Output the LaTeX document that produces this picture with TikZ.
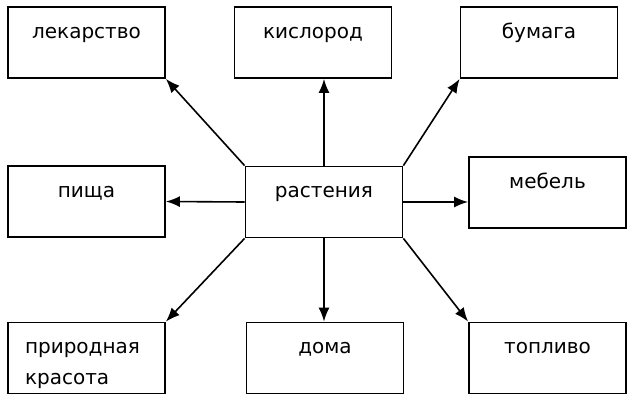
\documentclass[tikz,border=0pt]{standalone}
\usepackage{fontspec}
\setmainfont{DejaVu Sans}
\usepackage{tikz}
\usetikzlibrary{arrows.meta}
\tikzset{
  box/.style={rectangle, draw=black, line width=1.8pt, minimum width=157pt, minimum height=71pt, inner xsep=4pt, inner ysep=0pt, text height=31pt, text depth=40pt, align=center, font=\fontsize{20}{31}\selectfont},
  arr/.style={-{Latex[length=14pt,width=11pt]}, line width=1.6pt, black},
}
\begin{document}
\begin{tikzpicture}[x=1pt, y=-1pt]
\useasboundingbox (0,0) rectangle (638,402);
\node[box] (cen) at (324,202) {растения};
\node[box] (lek) at (86.5,42.5) {лекарство};
\node[box] (kis) at (313,42.5) {кислород};
\node[box] (bum) at (539,42.5) {бумага};
\node[box] (pis) at (86.5,201.5) {пища};
\node[box] (meb) at (547.5,192.5) {мебель};
\node[box, align=left, text width=123pt] (kra) at (86.5,358) {природная\\красота};
\node[box] (dom) at (325,358) {дома};
\node[box] (top) at (547.5,358) {топливо};
\draw[arr] (cen.north west)--(lek.south east);
\draw[arr] (cen.north)--(cen.north |- kis.south);
\draw[arr] (cen.north east)--(bum.south west);
\draw[arr] (cen.west)--(pis.east); \draw[arr] (cen.east)--(cen.east -| meb.west);
\draw[arr] (cen.south west)--(kra.north east);
\draw[arr] (cen.south)--(cen.south |- dom.north);
\draw[arr] (cen.south east)--(top.north west);
\end{tikzpicture}
\end{document}
